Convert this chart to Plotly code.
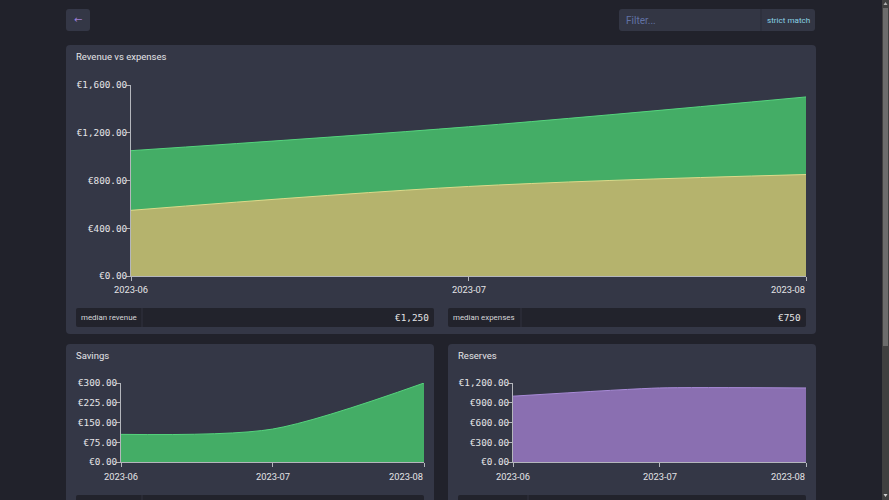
import plotly.graph_objects as go

# ---------------- data ----------------
months = ["2023-06", "2023-07", "2023-08"]
revenue = [1050, 1250, 1500]
expenses = [550, 750, 850]
savings = [105, 125, 300]
reserves = [1000, 1125, 1125]

main_ticks = [0, 400, 800, 1200, 1600]
savings_ticks = [0, 75, 150, 225, 300]
reserves_ticks = [0, 300, 600, 900, 1200]

median_revenue_label = "median revenue"
median_revenue_value = "€1,250"
median_expenses_label = "median expenses"
median_expenses_value = "€750"

# ---------------- styling ----------------
W, H = 889, 500
PAGE = "#21222b"
PANEL = "#343746"
STAT = "#22232c"
STAT_DIV = "#30323f"
AXIS = "#b4b6bc"
TXT = "#e4e4e6"
GREEN_FILL = "#44ad66"
GREEN_LINE = "#55d47d"
YEL_FILL = "#b5b36d"
YEL_LINE = "#dcda8a"
PURPLE_FILL = "#8a6fb1"
PURPLE_LINE = "#a98bd8"
MONO = "DejaVu Sans Mono"
SANS = "Roboto"


def fx(x):
    return x / W


def fy(y):
    return 1 - y / H


def rrect(x0, y0, x1, y1, r, color):
    p = (f"M {fx(x0 + r)},{fy(y0)} L {fx(x1 - r)},{fy(y0)} "
         f"Q {fx(x1)},{fy(y0)} {fx(x1)},{fy(y0 + r)} L {fx(x1)},{fy(y1 - r)} "
         f"Q {fx(x1)},{fy(y1)} {fx(x1 - r)},{fy(y1)} L {fx(x0 + r)},{fy(y1)} "
         f"Q {fx(x0)},{fy(y1)} {fx(x0)},{fy(y1 - r)} L {fx(x0)},{fy(y0 + r)} "
         f"Q {fx(x0)},{fy(y0)} {fx(x0 + r)},{fy(y0)} Z")
    return dict(type="path", xref="paper", yref="paper", path=p,
                fillcolor=color, line=dict(width=0), layer="below")


def vline(x, y0, y1, color, w=1):
    return dict(type="line", xref="paper", yref="paper", x0=fx(x), x1=fx(x),
                y0=fy(y0), y1=fy(y1), line=dict(color=color, width=w), layer="below")


def rect(x0, y0, x1, y1, color):
    return dict(type="rect", xref="paper", yref="paper", x0=fx(x0), x1=fx(x1),
                y0=fy(y0), y1=fy(y1), fillcolor=color, line=dict(width=0), layer="below")


def text(x, y, s, size, color, family=SANS, anchor="left"):
    # compensate the default 2px annotation padding
    if anchor == "left":
        x -= 2
    elif anchor == "right":
        x += 2
    return dict(xref="paper", yref="paper", x=fx(x), y=fy(y), text=s, showarrow=False,
                xanchor=anchor, yanchor="middle",
                font=dict(family=family, size=size, color=color))


fig = go.Figure()

# ---------------- traces ----------------
fig.add_trace(go.Scatter(x=months, y=revenue, mode="lines", fill="tozeroy",
                         fillcolor=GREEN_FILL, line=dict(color=GREEN_LINE, width=1, shape="spline"),
                         xaxis="x", yaxis="y", hoverinfo="skip"))
fig.add_trace(go.Scatter(x=months, y=expenses, mode="lines", fill="tozeroy",
                         fillcolor=YEL_FILL, line=dict(color=YEL_LINE, width=1, shape="spline"),
                         xaxis="x", yaxis="y", hoverinfo="skip"))
fig.add_trace(go.Scatter(x=months, y=savings, mode="lines", fill="tozeroy",
                         fillcolor=GREEN_FILL, line=dict(color=GREEN_LINE, width=1, shape="spline", smoothing=0.8),
                         xaxis="x2", yaxis="y2", hoverinfo="skip"))
fig.add_trace(go.Scatter(x=months, y=reserves, mode="lines", fill="tozeroy",
                         fillcolor=PURPLE_FILL, line=dict(color=PURPLE_LINE, width=1, shape="spline", smoothing=0.5),
                         xaxis="x3", yaxis="y3", hoverinfo="skip"))


def xax(x0, x1, anchor):
    return dict(domain=[fx(x0), fx(x1)], anchor=anchor, type="category", range=[0, 2],
                showgrid=False, zeroline=False, showline=True, linecolor=AXIS, linewidth=1,
                ticks="outside", ticklen=4, tickcolor=AXIS, showticklabels=False,
                automargin=False, fixedrange=True)


def yax(ybot, ytop, anchor, ticks):
    return dict(domain=[fy(ybot), fy(ytop)], anchor=anchor, range=[0, ticks[-1]],
                tickmode="array", tickvals=ticks,
                ticktext=[f"€{v:,.2f}" for v in ticks],
                showgrid=False, zeroline=False, showline=True, linecolor=AXIS, linewidth=1,
                ticks="outside", ticklen=4, tickcolor=AXIS, ticklabelstandoff=-3,
                tickfont=dict(family=MONO, size=9.3, color=TXT),
                automargin=False, fixedrange=True)


shapes = []
annotations = []

# page chrome
shapes.append(rrect(66, 9, 90, 31, 3, PANEL))
annotations.append(dict(xref="paper", yref="paper", x=fx(78), y=fy(19.5), text="←",
                        showarrow=False, xanchor="center", yanchor="middle",
                        font=dict(family="DejaVu Sans", size=10, color="#9d7fd4")))
shapes.append(rrect(619, 9, 815, 31, 3, "#333644"))
shapes.append(vline(761, 9, 31, "#2a2c38"))
annotations.append(text(626, 20, "Filter...", 10, "#6272a4"))
annotations.append(text(767, 20, "strict match", 8.1, "#8ad2e4"))

# scrollbar
shapes.append(rect(882, 0, 889, 500, "#404040"))
shapes.append(rect(883, 8, 888, 346, "#6c6c6c"))
shapes.append(dict(type="path", xref="paper", yref="paper", layer="below",
                   path=f"M {fx(883.5)},{fy(5)} L {fx(887.5)},{fy(5)} L {fx(885.5)},{fy(2)} Z",
                   fillcolor="#b0b0b0", line=dict(width=0)))
shapes.append(dict(type="path", xref="paper", yref="paper", layer="below",
                   path=f"M {fx(883.5)},{fy(494)} L {fx(887.5)},{fy(494)} L {fx(885.5)},{fy(497)} Z",
                   fillcolor="#d0d0d0", line=dict(width=0)))

# panels
shapes.append(rrect(66, 45, 816, 334, 4, PANEL))
shapes.append(rrect(66, 344, 434, 530, 4, PANEL))
shapes.append(rrect(448, 344, 816, 530, 4, PANEL))

annotations.append(text(76, 57, "Revenue vs expenses", 9.5, TXT))
annotations.append(text(76, 355, "Savings", 9.5, TXT))
annotations.append(text(458, 355, "Reserves", 9.5, TXT))

# stat boxes
shapes.append(rrect(76, 308, 434, 327, 2, STAT))
shapes.append(vline(142, 308, 327, STAT_DIV))
shapes.append(rrect(448, 308, 806, 327, 2, STAT))
shapes.append(vline(521, 308, 327, STAT_DIV))
annotations.append(text(81, 317.5, median_revenue_label, 7.9, "#d6d6d8"))
annotations.append(text(429, 317.5, median_revenue_value, 9.4, TXT, family=MONO, anchor="right"))
annotations.append(text(453, 317.5, median_expenses_label, 7.9, "#d6d6d8"))
annotations.append(text(801, 317.5, median_expenses_value, 9.4, TXT, family=MONO, anchor="right"))

shapes.append(rrect(76, 495, 424, 520, 2, STAT))
shapes.append(vline(142, 495, 520, STAT_DIV))
shapes.append(rrect(458, 495, 806, 520, 2, STAT))
shapes.append(vline(528, 495, 520, STAT_DIV))

# x tick labels (last one right-aligned to the axis end)
for xa, ylab in (("x", 289.5), ("x2", 476.5), ("x3", 476.5)):
    for i, m in enumerate(months):
        anchor = "center" if i < len(months) - 1 else "right"
        annotations.append(dict(xref=xa, yref="paper", x=m, y=fy(ylab), text=m,
                                showarrow=False, xanchor=anchor, yanchor="middle",
                                xshift=(1 if anchor == "right" else 0),
                                font=dict(family=SANS, size=9.3, color=TXT)))

fig.update_layout(
    template="none",
    width=W, height=H,
    margin=dict(l=0, r=0, t=0, b=0, pad=0, autoexpand=False),
    paper_bgcolor=PAGE, plot_bgcolor="rgba(0,0,0,0)",
    showlegend=False,
    xaxis=xax(131, 806, "y"),
    yaxis=yax(276, 85, "x", main_ticks),
    xaxis2=xax(121, 424, "y2"),
    yaxis2=yax(462, 383, "x2", savings_ticks),
    xaxis3=xax(513, 806, "y3"),
    yaxis3=yax(462, 383, "x3", reserves_ticks),
    shapes=shapes,
    annotations=annotations,
)

fig.write_html("out.html", config={"displayModeBar": False})
